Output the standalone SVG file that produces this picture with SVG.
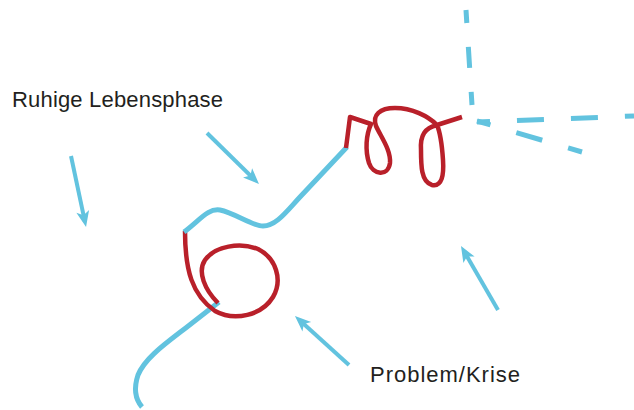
<svg xmlns="http://www.w3.org/2000/svg" width="634" height="410" viewBox="0 0 634 410">
<style>
.lbl{font-family:"Liberation Sans",Arial,sans-serif;font-size:22px;fill:#231f20}
.blue{fill:none;stroke:#62c3df;stroke-width:5;stroke-linecap:butt;stroke-linejoin:round}
.red{fill:none;stroke:#b9202a;stroke-width:4.5;stroke-linecap:butt;stroke-linejoin:round}
.arr{fill:none;stroke:#62c3df;stroke-width:4;marker-end:url(#ah)}
.dash{fill:none;stroke:#62c3df;stroke-width:5;stroke-dasharray:27 27}
</style>
<defs>
<marker id="ah" viewBox="-12 -7 20 14" refX="0" refY="0" markerWidth="20" markerHeight="14" markerUnits="userSpaceOnUse" orient="auto">
<path d="M6,0 L-10,-6.5 L-6,0 L-10,6.5 Z" fill="#62c3df"/>
</marker>
</defs>
<rect width="634" height="410" fill="#ffffff"/>
<g id="label-ruhig"><text class="lbl" x="12" y="107" textLength="211" lengthAdjust="spacing">Ruhige Lebensphase</text></g>
<g id="label-krise"><text class="lbl" x="370" y="382" textLength="150" lengthAdjust="spacing">Problem/Krise</text></g>
<g id="lifeline">
<path class="blue" d="M142,407 C136,400 133,390 138,375 C145,358 165,344 187,327 L219,302"/>
<path class="red" d="M218,303 C205,290 197,272 205,260 C215,246 240,242 258,249 C276,258 283,280 273,297 C262,315 235,322 215,311 C192,295 185,270 185,231"/>
<path class="blue" d="M184,232 C200,220 208,208 220,210 C235,213 252,226 263,226 C276,226 286,212 300,197 L347,147"/>
<path class="red" d="M346,148 L350,117 L371,124 C366,135 365,150 369,163 C373,175 388,177 390,163 C391,150 381,137 376,126 C372,115 380,108 395,108 C412,108 428,116 437,125 C425,128 420,135 421,150 C421,165 421,182 432,185 C442,187 444,175 443,160 C442,145 440,132 437,125 L462,117"/>
<path class="dash" d="M466,10 L472,105" style="stroke-dasharray:13 24 21 24 21 30"/>
<path class="dash" d="M477,122 L634,116" style="stroke-dashoffset:14"/>
<path class="dash" d="M477,121 L582,152" style="stroke-dashoffset:13"/>
</g>
<g id="connectors">
<line class="arr" x1="71" y1="156" x2="84.8" y2="221.1"/>
<line class="arr" x1="207" y1="133" x2="254.7" y2="179.8"/>
<line class="arr" x1="349" y1="365" x2="299.4" y2="320"/>
<line class="arr" x1="498" y1="310" x2="464" y2="251.2"/>
</g>
</svg>
